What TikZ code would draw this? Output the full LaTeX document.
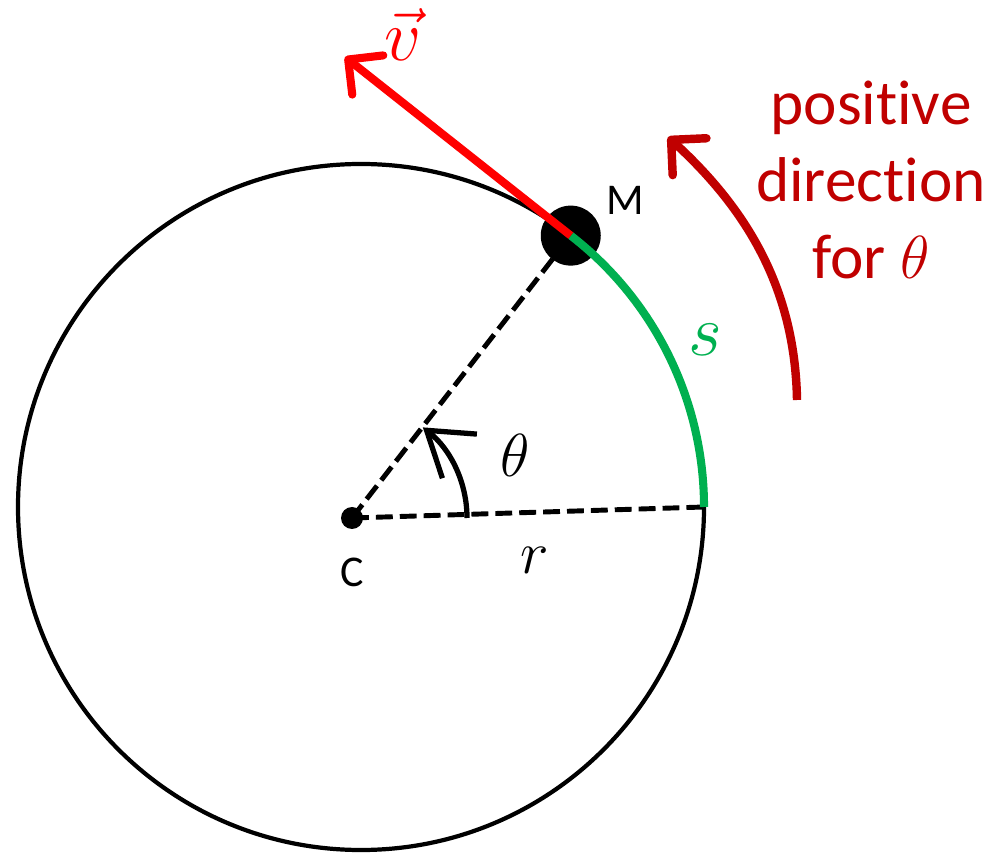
\documentclass[tikz,border=0pt]{standalone}
\usepackage{fontspec}
\setmainfont{Carlito}[Ligatures=NoCommon]
\usetikzlibrary{arrows.meta,positioning,calc}

\definecolor{darkred}{HTML}{C00000}
\definecolor{arcgreen}{HTML}{00B050}

\tikzset{
  dashline/.style={dash pattern=on 4.8pt off 2pt, line width=1.4pt},
  barb/.style={-{Straight Barb[length=0.25cm,width=0.5cm,line cap=round,line join=round]}}
}

\begin{document}
\begin{tikzpicture}[>=Stealth]
        \useasboundingbox (0,0) rectangle (10.03,8.52);
        \coordinate (O) at (3.61,3.45);
        \coordinate (C) at (3.52,3.34);
        \coordinate (M) at ($(O)+(52.3:3.43)$);
        \coordinate (E) at ($(O)+(0:3.43)$);
        \coordinate (vtip) at (3.45,7.95);
        \coordinate (pdstart) at (7.97,4.52);
        \coordinate (pdtip) at (6.68,7.15);
        % circle and radii
        \draw[line width=1.2pt] (O) circle (3.43);
        \draw[dashline] (C) -- (E);
        \draw[dashline] (C) -- (M);
        \fill (C) circle (0.11);
        \fill (M) circle (0.30);
        \draw[arcgreen, line width=2.3pt] (E) arc (0:52.3:3.43);
        % angle theta
        \draw[line width=1.5pt, -{Straight Barb[length=0.42cm,width=0.56cm]}] ($(C)+(0:1.15)$) arc (0:52:1.15);
        % velocity and positive direction
        \draw[red, line width=2.3pt, barb] (M) -- (vtip);
        \draw[darkred, line width=2.4pt, barb] (pdstart) .. controls (7.95,5.6) and (7.5,6.4) .. (pdtip);
        % labels
        \node[red, font=\fontsize{22}{26}\selectfont] (vlab) at (4.03,8.17) {$\vec{v}$};
        \node[font=\fontsize{12.5}{15}\selectfont] (Mlab) at (6.25,6.52) {M};
        \node[font=\fontsize{12.5}{15}\selectfont] (Clab) at (3.52,2.80) {C};
        \node[font=\fontsize{19}{22}\selectfont] (thlab) at (5.15,3.97) {$\theta$};
        \node[font=\fontsize{19}{22}\selectfont] (rlab) at (5.35,2.92) {$r$};
        \node[arcgreen, font=\fontsize{22}{26}\selectfont] (slab) at (7.05,5.12) {$s$};
        \node[darkred, align=center, font=\fontsize{18}{21.9}\selectfont] (pdlab) at (8.71,6.72) {positive\\direction\\for $\theta$};
      \end{tikzpicture}
\end{document}
